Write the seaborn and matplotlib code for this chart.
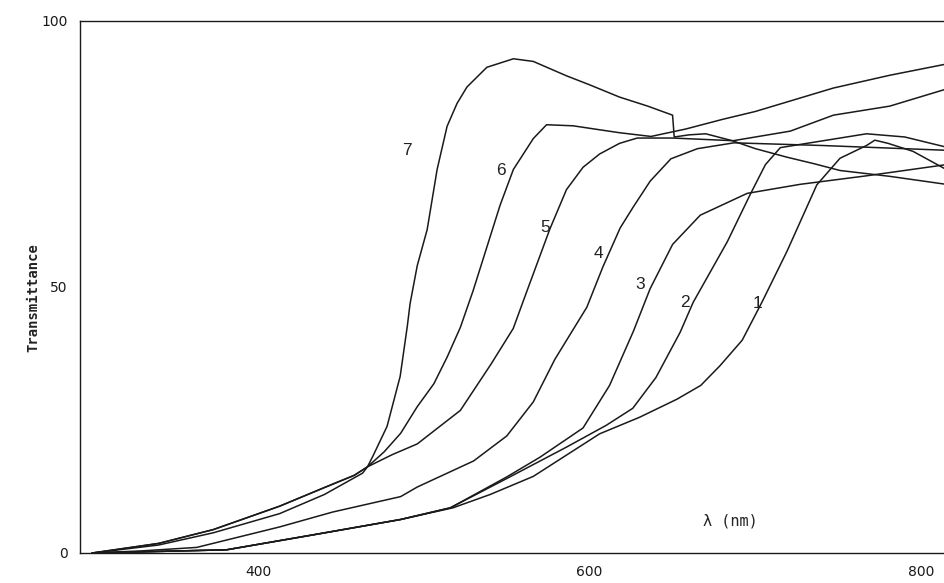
import matplotlib
matplotlib.use("Agg")
import matplotlib.pyplot as plt
import pandas as pd
import seaborn as sns

# transmittance spectra (wavelength nm, T %)
wl_1 = [300, 381, 433, 486, 517.6, 540, 566, 606, 630, 652.6, 667, 678.6, 692, 704, 719, 737, 751, 767, 772, 780, 795, 815]
t_1 = [0, 0.6, 3.4, 6.3, 8.5, 11, 14.4, 22.4, 25.5, 28.9, 31.5, 35.2, 40, 47.2, 56.7, 69.2, 74.2, 76.6, 77.6, 77, 75.5, 72.1]

wl_2 = [300, 381, 433, 486, 516, 550, 586, 610, 626, 640, 654.6, 662.4, 683, 697, 706, 715, 727, 767, 790, 815]
t_2 = [0, 0.6, 3.4, 6.3, 8.5, 14.0, 19.9, 24, 27.2, 33, 41.5, 47.1, 58.5, 67.5, 73, 76.2, 76.8, 78.8, 78.2, 76.3]

wl_3 = [300, 381, 433, 486, 516, 550, 570, 596, 612, 626.4, 636.5, 650, 666.7, 695, 727, 767, 815]
t_3 = [0, 0.6, 3.4, 6.3, 8.5, 14.3, 18, 23.5, 31.5, 41.7, 49.7, 58, 63.5, 67.6, 69.3, 70.9, 73]

wl_4 = [300, 330, 363, 413, 445, 486, 496, 530, 550, 566, 579, 598.3, 608, 618.4, 626, 636.5, 649, 665, 687, 740, 815]
t_4 = [0, 0.4, 1.05, 4.9, 7.7, 10.6, 12.4, 17.3, 22, 28.4, 36.4, 46.2, 53.8, 61.1, 64.9, 69.9, 74.1, 76, 77.1, 76.6, 75.7]

wl_5 = [300, 340, 373, 413, 440, 463, 466, 481, 496, 522, 540.5, 553.9, 562, 576, 586, 596, 606, 618, 628.7, 650, 686.6, 721, 747, 781, 815]
t_5 = [0, 1.5, 3.8, 7.4, 11, 15, 16.2, 18.5, 20.5, 26.8, 35.5, 42.2, 49.1, 60.9, 68.3, 72.5, 75, 77, 78, 78, 77.5, 79.3, 82.3, 84, 87.2]

wl_6 = [300, 340, 373, 413, 440, 458, 466, 476, 486, 496, 506, 514, 522, 529.7, 538, 546, 554, 566, 574, 590, 605, 618, 637, 658, 680, 700, 747, 781, 815]
t_6 = [0, 1.8, 4.4, 8.8, 12.3, 14.6, 16.2, 19, 22.5, 27.5, 31.8, 36.8, 42.4, 49.3, 57.5, 65.4, 72.1, 77.9, 80.5, 80.3, 79.6, 79.0, 78.3, 79.7, 81.5, 83, 87.4, 89.8, 91.9]

wl_7 = [300, 340, 373, 413, 440, 458, 466, 469.4, 477.8, 485.7, 490, 491.7, 496, 502, 508, 514, 520, 526, 538, 554, 566, 586, 600, 618, 635, 650, 651, 660, 670, 686, 700, 719, 735, 751, 781, 815]
t_7 = [0, 1.8, 4.4, 8.8, 12.3, 14.6, 16.2, 18.3, 23.8, 33.2, 42.6, 46.9, 54, 60.8, 72.1, 80.2, 84.5, 87.6, 91.3, 92.9, 92.4, 89.7, 88, 85.7, 84, 82.3, 78.2, 78.6, 78.8, 77.5, 76, 74.4, 73.2, 71.9, 70.8, 69.3]

curve_names = ["1", "2", "3", "4", "5", "6", "7"]
curve_wl = [wl_1, wl_2, wl_3, wl_4, wl_5, wl_6, wl_7]
curve_t = [t_1, t_2, t_3, t_4, t_5, t_6, t_7]

# where the curve numbers are written
label_wl = [701, 657.6, 630.5, 605.1, 573.2, 546.6, 490]
label_t = [46.9, 47.1, 50.5, 56.3, 61.2, 71.9, 75.6]

x_ticks = [400, 600, 800]
y_ticks = [0, 50, 100]

frames = []
for name, wl, t in zip(curve_names, curve_wl, curve_t):
    frames.append(pd.DataFrame({"wavelength": wl, "T": t, "curve": name}))
df = pd.concat(frames, ignore_index=True)

sns.set_theme(style="white")
plt.rcParams["font.family"] = ["DejaVu Sans"]

fig = plt.figure(figsize=(9.45, 5.83), dpi=100)
# axes run past the right edge like the cropped scan
ax = fig.add_axes([80 / 945, 30 / 583, 891 / 945, 532 / 583])

sns.lineplot(data=df, x="wavelength", y="T", hue="curve",
             palette={n: "#1a1a1a" for n in curve_names},
             estimator=None, sort=False, legend=False, linewidth=1.1, ax=ax)

for name, lx, ly in zip(curve_names, label_wl, label_t):
    ax.text(lx, ly, name, ha="center", va="center", fontsize=12.5,
            family="Liberation Sans", color="#222222")

ax.text(685, 6, "λ (nm)", ha="center", va="center", fontsize=11,
        family="DejaVu Sans Mono", color="#222222")

ax.set_xlim(292.6, 830)
ax.set_ylim(0, 100)
ax.set_xticks(x_ticks)
ax.set_yticks(y_ticks)
ax.set_xlabel("")
ax.set_ylabel("Transmittance", family="DejaVu Sans Mono", fontsize=10,
              fontweight="bold", color="#222222")
ax.yaxis.set_label_coords(-0.045, 0.48)

for side in ["left", "bottom", "top", "right"]:
    ax.spines[side].set_visible(True)
    ax.spines[side].set_color("#1a1a1a")
    ax.spines[side].set_linewidth(1.0)

ax.tick_params(axis="both", direction="out", length=4, width=0.8,
               colors="#1a1a1a", labelsize=10, pad=5)
ax.grid(False)

fig.savefig("out.png", dpi=100, facecolor="white")
